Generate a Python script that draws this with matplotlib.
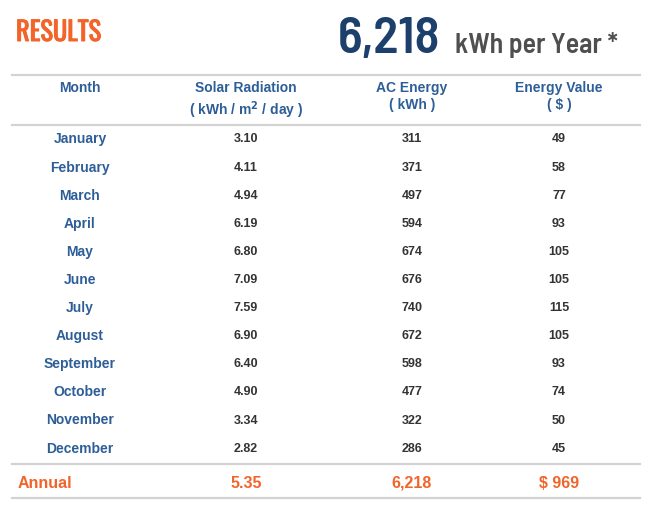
import matplotlib
matplotlib.use("Agg")
import matplotlib.pyplot as plt
import matplotlib.patheffects as pe

# table data
months = ["January", "February", "March", "April", "May", "June", "July",
          "August", "September", "October", "November", "December"]
solar_radiation = [3.10, 4.11, 4.94, 6.19, 6.80, 7.09, 7.59, 6.90, 6.40, 4.90, 3.34, 2.82]
ac_energy = [311, 371, 497, 594, 674, 676, 740, 672, 598, 477, 322, 286]
energy_value = [49, 58, 77, 93, 105, 105, 115, 105, 93, 74, 50, 45]
annual_radiation = 5.35
annual_energy = 6218
annual_value = 969

W, H = 657, 518
fig = plt.figure(figsize=(W / 100, H / 100), dpi=100)
fig.patch.set_facecolor("white")

tall = ["Oswald", "Roboto Condensed", "DejaVu Sans"]
cond = ["Barlow Semi Condensed", "Barlow Condensed", "DejaVu Sans"]
body = ["Liberation Sans", "DejaVu Sans"]


def txt(x, y, s, **kw):
    # x, y in pixels from the top-left corner
    kw.setdefault("family", body)
    return fig.text(x / W, 1 - y / H, s, **kw)


def hline(y, color="#d2d2d2", lw=1.6):
    fig.add_artist(plt.Line2D([12 / W, 640 / W], [1 - y / H] * 2,
                              color=color, lw=lw, transform=fig.transFigure))


orange = "#f26429"
navy = "#1c3f6c"
blue = "#2d5e98"
dark = "#333333"

t = txt(16, 41, "RESULTS", family=tall, size=19, color=orange,
        ha="left", va="baseline")
t.set_path_effects([pe.withStroke(linewidth=0.7, foreground=orange)])
txt(440, 53, f"{annual_energy:,}", family=cond, weight=600, size=37,
    color=navy, ha="right", va="baseline")
txt(455, 53, "kWh per Year *", family=cond, weight=600, size=20,
    color="#4f4f4f", ha="left", va="baseline")

hline(75)
hline(125)
hline(464)
hline(498)

col_x = [80, 246, 412, 559]
hdr = dict(ha="center", va="center", size=10, weight="bold", color=blue)
txt(col_x[0], 88, "Month", **hdr)
txt(col_x[1], 88, "Solar Radiation", **hdr)
txt(col_x[1], 110, "( kWh / m$^\\mathbf{2}$ / day )", **hdr)
txt(col_x[2], 88, "AC Energy", **hdr)
txt(col_x[2], 105, "( kWh )", **hdr)
txt(col_x[3], 88, "Energy Value", **hdr)
txt(col_x[3], 105, "( $ )", **hdr)

val = dict(ha="center", va="center", size=9, weight="bold", color=dark)
for i, m in enumerate(months):
    y = 139.5 + i * 28.1
    txt(col_x[0], y, m, ha="center", va="center", size=10, weight="bold", color=blue)
    txt(col_x[1], y, f"{solar_radiation[i]:.2f}", **val)
    txt(col_x[2], y, f"{ac_energy[i]}", **val)
    txt(col_x[3], y, f"{energy_value[i]}", **val)

tot = dict(ha="center", va="center", size=11.5, weight="bold", color=orange)
txt(18, 483, "Annual", ha="left", va="center", size=11.5, weight="bold", color=orange)
txt(col_x[1], 483, f"{annual_radiation:.2f}", **tot)
txt(col_x[2], 483, f"{annual_energy:,}", **tot)
txt(col_x[3], 483, f"$ {annual_value}", **tot)

fig.savefig("out.png", dpi=100, facecolor="white")
